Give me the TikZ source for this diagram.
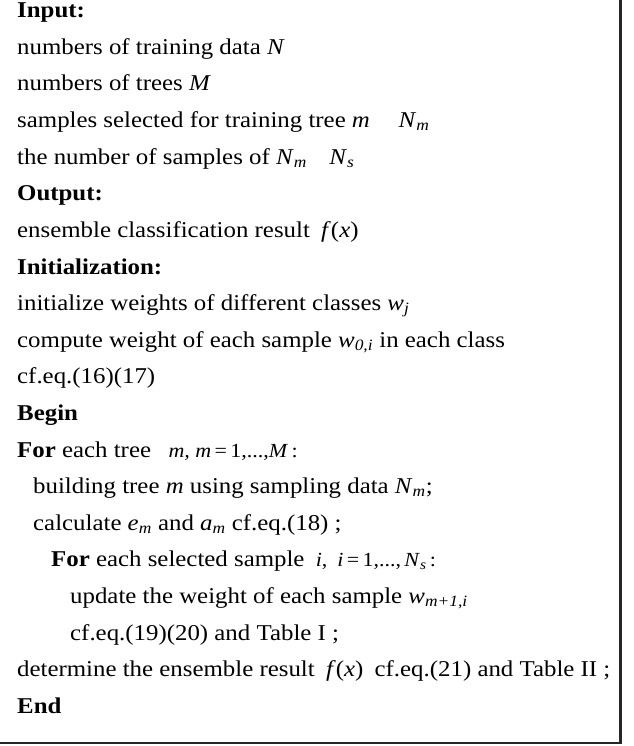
\documentclass[tikz,border=0pt]{standalone}
\usepackage{fontspec}
\setmainfont{Liberation Serif}[FakeStretch=1.1]
\usepackage{tikz}

% italic variable with italic subscript
\newcommand{\vsub}[2]{\textit{#1}\textsubscript{\textit{#2}}}
% smaller size for the loop ranges
\newcommand{\rng}[1]{{\fontsize{20}{24}\selectfont #1}}

\begin{document}
\begin{tikzpicture}[x=1pt, y=1pt,
        algline/.style={anchor=base west, inner sep=0pt, font=\fontsize{22.6}{27}\selectfont},
        frame/.style={line width=2.4pt, black!85}
    ]
        \useasboundingbox (0,0) rectangle (633,-746);
        % Text lines, one per row
        \node[algline] (r0)  at (17, {-17.8-36.6*0})  {\textbf{Input:}};
        \node[algline] (r1)  at (17, {-17.8-36.6*1})  {numbers of training data \textit{N}};
        \node[algline] (r2)  at (17, {-17.8-36.6*2})  {numbers of trees \textit{M}};
        \node[algline] (r3)  at (17, {-17.8-36.6*3})  {samples selected for training tree \textit{m}\quad\ \vsub{N}{m}};
        \node[algline] (r4)  at (17, {-17.8-36.6*4})  {the number of samples of \vsub{N}{m}\quad \vsub{N}{s}};
        \node[algline] (r5)  at (17, {-17.8-36.6*5})  {\textbf{Output:}};
        \node[algline] (r6)  at (17, {-17.8-36.6*6})  {ensemble classification result\enspace \textit{f}(\textit{x})};
        \node[algline] (r7)  at (17, {-17.8-36.6*7})  {\textbf{Initialization:}};
        \node[algline] (r8)  at (17, {-17.8-36.6*8})  {initialize weights of different classes \vsub{w}{j}};
        \node[algline] (r9)  at (17, {-17.8-36.6*9})  {compute weight of each sample \vsub{w}{0,i} in each class};
        \node[algline] (r10) at (17, {-17.8-36.6*10}) {cf.eq.(16)(17)};
        \node[algline] (r11) at (17, {-17.8-36.6*11}) {\textbf{Begin}};
        \node[algline] (r12) at (17, {-17.8-36.6*12}) {\textbf{For} each tree\enspace\ \rng{\textit{m, m}\,=\,1,...,\textit{M}\,:}};
        \node[algline] (r13) at (33, {-17.8-36.6*13}) {building tree \textit{m} using sampling data \vsub{N}{m};};
        \node[algline] (r14) at (33, {-17.8-36.6*14}) {calculate \vsub{e}{m} and \vsub{a}{m} cf.eq.(18) ;};
        \node[algline] (r15) at (51, {-17.8-36.6*15}) {\textbf{For} each selected sample\enspace \rng{\textit{i},\enspace \textit{i}\,=\,1,...,\,\vsub{N}{s}\,:}};
        \node[algline] (r16) at (70, {-17.8-36.6*16}) {update the weight of each sample \vsub{w}{m+1,i}};
        \node[algline] (r17) at (70, {-17.8-36.6*17}) {cf.eq.(19)(20) and Table I ;};
        \node[algline] (r18) at (17, {-17.8-36.6*18}) {determine the ensemble result\enspace \textit{f}(\textit{x})\enspace cf.eq.(21) and Table II ;};
        \node[algline] (r19) at (17, {-17.8-36.6*19}) {\textbf{End}};
        % Right and bottom edges of the box
        \draw[frame] (620.5,0) -- (620.5,-743) -- (0,-743);
    \end{tikzpicture}
\end{document}
